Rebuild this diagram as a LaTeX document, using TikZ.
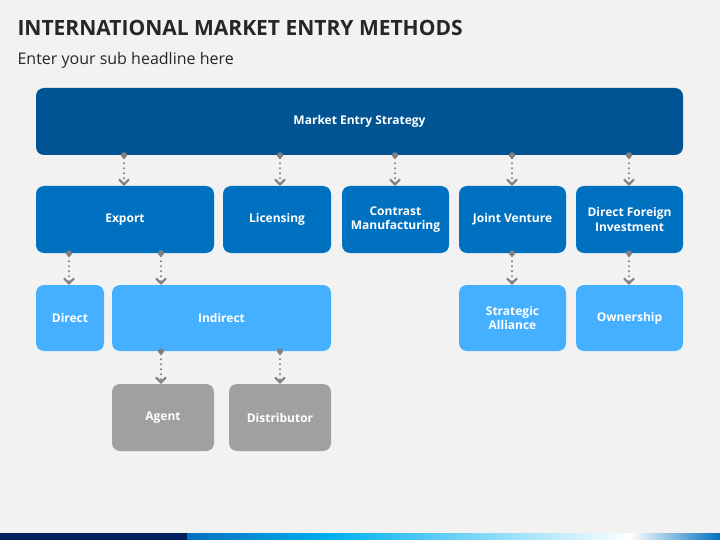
\documentclass[tikz,border=0pt]{standalone}
\usepackage{fontspec}
\setmainfont{Open Sans}
\usetikzlibrary{arrows.meta}
\definecolor{bg}{RGB}{242,242,242}
\definecolor{topc}{RGB}{0,84,147}
\definecolor{midc}{RGB}{0,112,192}
\definecolor{lowc}{RGB}{69,176,255}
\definecolor{grayc}{RGB}{160,160,160}
\definecolor{conc}{RGB}{128,128,128}
\definecolor{navy}{RGB}{0,32,96}
\definecolor{cyan1}{RGB}{0,176,240}
\tikzset{
 box/.style={rounded corners=8pt,text=white,font=\bfseries\fontsize{12}{14}\selectfont,align=center,inner sep=0pt},
 conn/.style={conc,line width=2.2pt,dash pattern=on 0pt off 5pt,line cap=round,-{Straight Barb[length=5pt,width=10pt,line width=2pt]},shorten <=3pt},
 dotst/.style={fill=conc,circle,inner sep=0pt,minimum size=6pt}
}
\newcommand{\bx}[6]{\node[box,fill=#6,minimum width=#4-#2,minimum height=#5-#3] (#1) at ({(#2+#4)/2},{(#3+#5)/2}) {#1text};}
\begin{document}
\begin{tikzpicture}[x=1pt,y=-1pt]
\fill[bg] (0,0) rectangle (720,540);
\useasboundingbox (0,0) rectangle (720,540);
\fill[navy] (0,533) rectangle (187,540);
\shade[left color=midc,right color=cyan1] (187,533) rectangle (330,540);
\shade[left color=cyan1,right color=white] (330,533) rectangle (630,540);
\shade[left color=white,right color=midc] (630,533) rectangle (720,540);
\node[anchor=west,font=\bfseries\fontsize{21}{24}\selectfont,text=black!85] (title) at (14,28) {INTERNATIONAL MARKET ENTRY METHODS};
\node[anchor=west,font=\fontsize{16}{19}\selectfont,text=black!85] (sub) at (14,60) {Enter your sub headline here};
\def\mk#1#2#3#4#5#6#7{\node[box,fill=#6,minimum width=#4-#2,minimum height=#5-#3] (#1) at ({(#2+#4)/2},{(#3+#5)/2}) {#7};}
\mk{top}{36}{88}{683}{155}{topc}{Market Entry Strategy}
\mk{exp}{36}{186}{214}{253}{midc}{Export}
\mk{lic}{223}{186}{331}{253}{midc}{Licensing}
\mk{con}{342}{186}{449}{253}{midc}{Contrast\\Manufacturing}
\mk{jv}{459}{186}{566}{253}{midc}{Joint Venture}
\mk{dfi}{576}{186}{683}{253}{midc}{Direct Foreign\\Investment}
\mk{dir}{36}{285}{104}{351}{lowc}{Direct}
\mk{ind}{112}{285}{331}{351}{lowc}{Indirect}
\mk{sa}{459}{285}{566}{351}{lowc}{Strategic\\Alliance}
\mk{own}{576}{285}{683}{351}{lowc}{Ownership}
\mk{ag}{112}{384}{214}{451}{grayc}{Agent}
\mk{dis}{229}{384}{331}{451}{grayc}{Distributor}
\def\cn#1#2#3{\coordinate (s) at (#3,0); \node[dotst] at (#1.south -| s) {}; \draw[conn] (#1.south -| s) -- (#2.north -| s);}
\cn{top}{exp}{124}
\cn{top}{lic}{280}
\cn{top}{con}{395}
\cn{top}{jv}{512}
\cn{top}{dfi}{629}
\cn{exp}{dir}{69}
\cn{exp}{ind}{161}
\cn{jv}{sa}{512}
\cn{dfi}{own}{629}
\cn{ind}{ag}{161}
\cn{ind}{dis}{280}
\end{tikzpicture}
\end{document}
